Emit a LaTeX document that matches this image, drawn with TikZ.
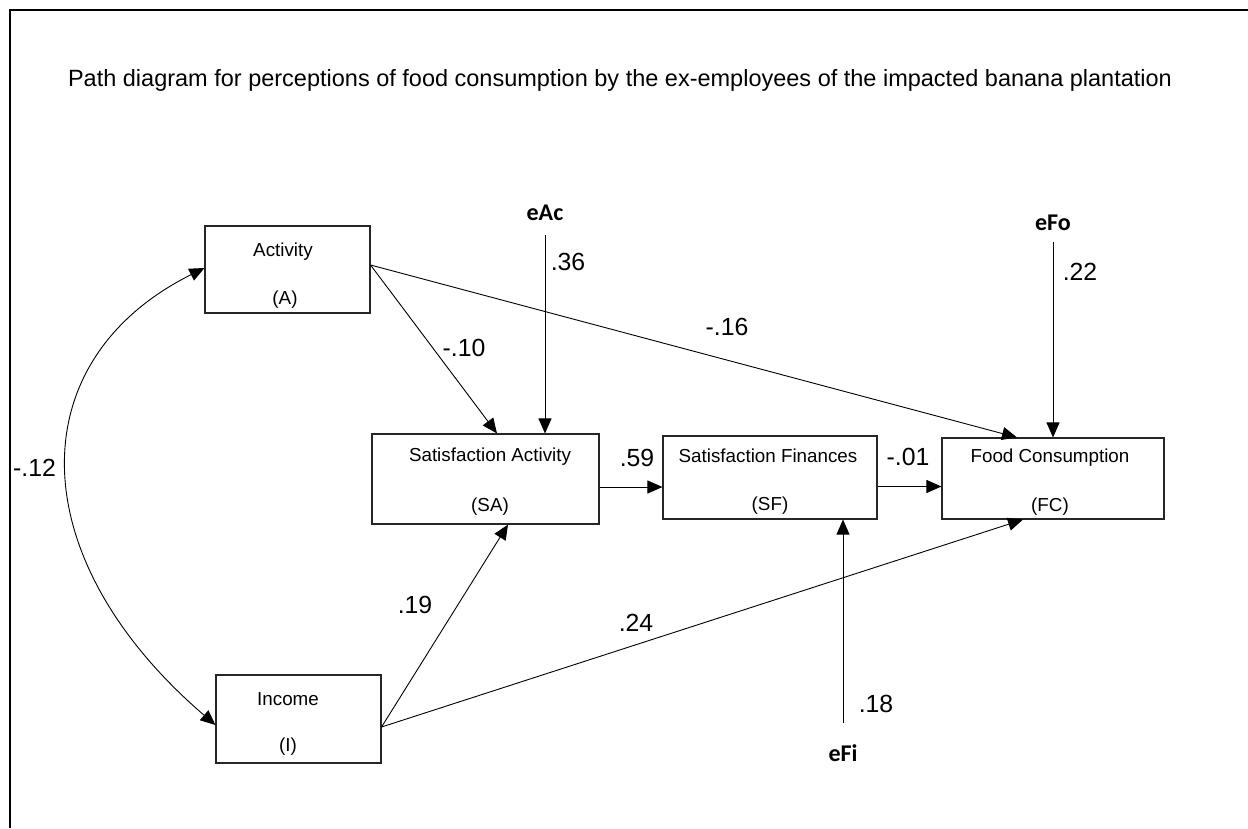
\documentclass[tikz,border=0pt]{standalone}
\usepackage{fontspec}
\setmainfont{Liberation Sans}
\newfontfamily\errfont{Carlito}
\usetikzlibrary{arrows.meta}
\tikzset{
  box/.style={draw=black!85, line width=1.1pt, minimum width=#1, inner sep=0pt},
  boxtxt/.style={font=\fontsize{18.8}{20}\selectfont, inner sep=0pt},
  coef/.style={font=\fontsize{24.8}{26}\selectfont, inner sep=0pt},
  errlab/.style={font=\errfont\bfseries\fontsize{24}{26}\selectfont, inner sep=0pt},
  arr/.style={line width=0.9pt, -{Triangle[length=15pt,width=13pt]}},
  dbl/.style={line width=0.9pt, {Triangle[length=15pt,width=13pt]}-{Triangle[length=15pt,width=13pt]}},
}
\begin{document}
\begin{tikzpicture}[x=1pt,y=-1pt]
\useasboundingbox (0,0) rectangle (1248,828);
\draw[line width=2pt] (10,828) -- (10,10) -- (1248,10);
\node[font=\fontsize{23.5}{26}\selectfont, inner sep=0pt] (title) at (620,80) {Path diagram for perceptions of food consumption by the ex-employees of the impacted banana plantation};

% boxes
\node[box=165pt, minimum height=87pt] (A) at (287.5,269.5) {};
\node[box=227pt, minimum height=90pt] (SA) at (485.5,479) {};
\node[box=214pt, minimum height=83pt] (SF) at (770,477.5) {};
\node[box=222pt, minimum height=81pt] (FC) at (1053,478.5) {};
\node[box=165pt, minimum height=88pt] (I) at (298.5,719) {};

\node[boxtxt] (At) at (283,252) {Activity};
\node[boxtxt] (Ab) at (285,300) {(A)};
\node[boxtxt] (SAt) at (490,457) {Satisfaction Activity};
\node[boxtxt] (SAb) at (490,507) {(SA)};
\node[boxtxt] (SFt) at (768,456) {Satisfaction Finances};
\node[boxtxt] (SFb) at (770,506) {(SF)};
\node[boxtxt] (FCt) at (1050,458) {Food Consumption};
\node[boxtxt] (FCb) at (1050,507) {(FC)};
\node[boxtxt] (It) at (288,699) {Income};
\node[boxtxt] (Ib) at (288,747) {(I)};

% error terms
\node[errlab] (eAc) at (545,213) {eAc};
\node[errlab] (eFo) at (1053,223) {eFo};
\node[errlab] (eFi) at (843,753) {eFi};
\coordinate (eAcEnd) at (545,235);
\coordinate (eFoEnd) at (1053,242);
\coordinate (eFiEnd) at (843,723);

% paths
\draw[arr] ([yshift=4.5pt]A.east) -- ([xshift=11.5pt]SA.north);
\draw[arr] ([yshift=4.5pt]A.east) -- ([xshift=-36pt]FC.north);
\draw[arr] (eAcEnd) -- (eAcEnd |- SA.north);
\draw[arr] (eFoEnd) -- (eFoEnd |- FC.north);
\draw[arr] (eFiEnd) -- (eFiEnd |- SF.south);
\draw[arr] ([yshift=-8pt]SA.east) -- ([yshift=-8pt]SA.east -| SF.west);
\draw[arr] ([yshift=-9pt]SF.east) -- ([yshift=-9pt]SF.east -| FC.west);
\draw[arr] ([yshift=-8pt]I.east) -- ([xshift=22.5pt]SA.south);
\draw[arr] ([yshift=-8pt]I.east) -- ([xshift=-30pt]FC.south);
\draw[dbl] ([yshift=1.5pt]A.west) .. controls (20,360) and (20,557) .. ([yshift=-6pt]I.west);

% coefficients
\node[coef] (c36) at (568,262) {.36};
\node[coef] (c22) at (1080,272) {.22};
\node[coef] (c10) at (464,348) {-.10};
\node[coef] (c16) at (727,327) {-.16};
\node[coef] (c59) at (637,458) {.59};
\node[coef] (c01) at (908,457) {-.01};
\node[coef] (c19) at (415,605) {.19};
\node[coef] (c24) at (636,623) {.24};
\node[coef] (c18) at (876,704) {.18};
\node[coef] (c12) at (34.5,468) {-.12};
\end{tikzpicture}
\end{document}
